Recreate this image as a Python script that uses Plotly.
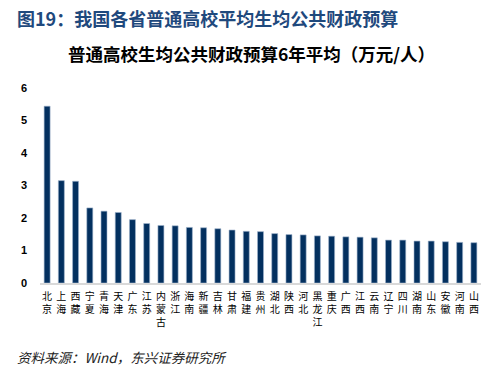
import plotly.graph_objects as go

provinces = ["北京", "上海", "西藏", "宁夏", "青海", "天津", "广东", "江苏", "内蒙古", "浙江",
             "海南", "新疆", "吉林", "甘肃", "福建", "贵州", "湖北", "陕西", "河北", "黑龙江",
             "重庆", "广西", "江西", "云南", "辽宁", "四川", "湖南", "山东", "安徽", "河南", "山西"]
values = [5.44, 3.15, 3.13, 2.31, 2.21, 2.17, 1.95, 1.83, 1.77, 1.76,
          1.71, 1.70, 1.67, 1.63, 1.59, 1.58, 1.52, 1.49, 1.48, 1.45,
          1.44, 1.42, 1.41, 1.39, 1.32, 1.32, 1.29, 1.29, 1.27, 1.25, 1.24]
y_ticks = [0, 1, 2, 3, 4, 5, 6]

header = "图19：我国各省普通高校平均生均公共财政预算"
chart_title = "普通高校生均公共财政预算6年平均（万元/人）"
source = "资料来源：Wind，东兴证券研究所"

cjk = "Noto Sans CJK SC"
OFF = 8  # default page body margin
W, H = 495 - OFF, 374 - OFF
L, R, T, B = 40 - OFF, 14, 88 - OFF, 91
ph = H - T - B

def py(pix):
    return (H - B - (pix - OFF)) / ph

def px(pix):
    return ((pix - OFF) - L) / (W - L - R)

fig = go.Figure(go.Bar(
    x=provinces, y=values,
    marker=dict(color="#03305F", line=dict(color="#9FB3CC", width=0.6)),
))

fig.update_layout(
    width=W, height=H,
    margin=dict(l=L, r=R, t=T, b=B, autoexpand=False),
    plot_bgcolor="white", paper_bgcolor="white",
    bargap=0.58,
    showlegend=False,
    font=dict(family=cjk, color="#000000"),
    xaxis=dict(
        tickmode="array", tickvals=provinces,
        ticktext=["<br>".join(list(p)) for p in provinces],
        tickangle=0, automargin=False,
        tickfont=dict(family=cjk, size=10, color="#000000"),
        showline=True, linecolor="#D9D9D9", linewidth=1.5,
        showgrid=False, ticks="", ticklabelstandoff=3,
    ),
    yaxis=dict(
        range=[0, 6], tickvals=y_ticks, automargin=False,
        tickfont=dict(family="Liberation Sans", size=11, color="#000000", weight="bold"),
        showgrid=False, zeroline=False, showline=False,
        ticks="", ticklabelstandoff=12,
    ),
    annotations=[
        dict(text="<b>" + header + "</b>", xref="paper", yref="paper",
             x=px(15), y=py(18), xanchor="left", yanchor="middle", showarrow=False,
             font=dict(family=cjk, size=18, color="#1F497D")),
        dict(text="<b>" + chart_title + "</b>", xref="paper", yref="paper",
             x=px(251), y=py(54), xanchor="center", yanchor="middle", showarrow=False,
             font=dict(family=cjk, size=17.5, color="#000000")),
        dict(text="<i>" + source + "</i>", xref="paper", yref="paper",
             x=px(15), y=py(357), xanchor="left", yanchor="middle", showarrow=False,
             font=dict(family=cjk, size=13.5, color="#222222")),
    ],
)

fig.write_html("out.html")
